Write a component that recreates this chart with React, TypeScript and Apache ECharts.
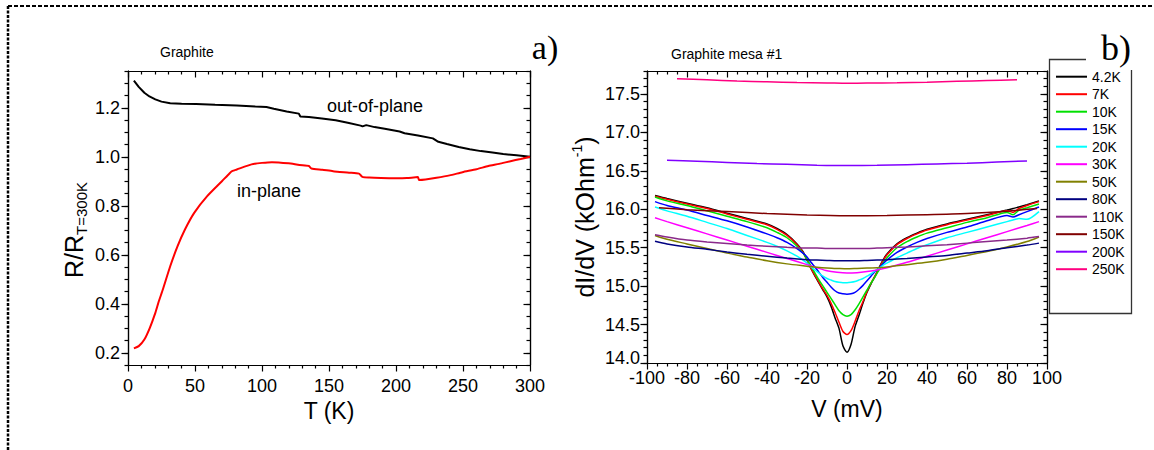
import React, { useEffect, useRef } from 'react';
import * as echarts from 'echarts';

// ---------- Panel a) : R/R(300K) vs T ----------
const T_OUT = [4.4, 8, 12.2, 16, 20.4, 25, 31.5, 40, 50.8, 65, 81.2, 95, 103.3, 108.8, 118.4, 127.5, 128.6, 135, 144.7, 155, 164, 173.6, 175, 177.8, 184, 191.6, 202.7, 206.4, 216.4, 227.5, 231.6, 238, 246.8, 255, 263.4, 272, 280, 290, 300];
const R_OUT = [1.311, 1.285, 1.261, 1.246, 1.234, 1.225, 1.218, 1.216, 1.215, 1.212, 1.209, 1.205, 1.203, 1.196, 1.185, 1.176, 1.164, 1.162, 1.156, 1.149, 1.139, 1.127, 1.124, 1.129, 1.121, 1.114, 1.103, 1.096, 1.087, 1.075, 1.061, 1.052, 1.04, 1.031, 1.023, 1.017, 1.011, 1.006, 1.0];
const T_IN = [4.4, 8, 12.2, 16.3, 20.4, 23, 26, 31.5, 37, 42.5, 49.4, 59.1, 70.1, 75.7, 78, 81.2, 92.2, 100, 107.4, 119.8, 128, 135, 136.9, 145, 153, 165, 172.3, 174.9, 180, 188.8, 200, 208.2, 216.3, 217.2, 222, 230.2, 240, 249.6, 260, 268.9, 277, 285.4, 293, 300];
const R_IN = [0.218, 0.227, 0.254, 0.302, 0.363, 0.41, 0.458, 0.553, 0.635, 0.703, 0.771, 0.839, 0.9, 0.932, 0.942, 0.948, 0.969, 0.975, 0.978, 0.973, 0.966, 0.962, 0.952, 0.947, 0.941, 0.935, 0.931, 0.918, 0.915, 0.913, 0.912, 0.913, 0.917, 0.905, 0.907, 0.914, 0.924, 0.937, 0.949, 0.962, 0.971, 0.982, 0.991, 1.0];
const A_Y_TICKS = [0.2, 0.4, 0.6, 0.8, 1.0, 1.2];

// ---------- Panel b) : dI/dV vs V ----------
const V_FINE = [-96, -90, -80, -70, -60, -50, -40, -35, -30, -25, -22, -20, -18, -16, -14, -12, -10, -8, -6, -4, -2, 0, 2, 4, 6, 8, 10, 12, 14, 16, 18, 20, 25, 30, 35, 40, 50, 60, 70, 80, 83, 86, 90, 96];
const D_4K2 = [16.18, 16.14, 16.08, 16.02, 15.95, 15.88, 15.81, 15.75, 15.67, 15.55, 15.45, 15.34, 15.23, 15.13, 15.04, 14.95, 14.86, 14.74, 14.59, 14.45, 14.22, 14.14, 14.24, 14.47, 14.62, 14.78, 14.92, 15.03, 15.13, 15.24, 15.34, 15.42, 15.55, 15.63, 15.69, 15.74, 15.81, 15.87, 15.93, 15.99, 16.01, 16.03, 16.06, 16.11];
const D_7K = [16.17, 16.13, 16.07, 16.01, 15.94, 15.87, 15.8, 15.74, 15.66, 15.54, 15.44, 15.34, 15.23, 15.14, 15.05, 14.96, 14.88, 14.78, 14.66, 14.53, 14.41, 14.37, 14.42, 14.54, 14.68, 14.8, 14.93, 15.04, 15.13, 15.23, 15.33, 15.41, 15.54, 15.62, 15.68, 15.73, 15.8, 15.86, 15.92, 15.98, 15.96, 16.01, 16.05, 16.1];
const D_10K = [16.16, 16.11, 16.05, 15.98, 15.91, 15.84, 15.76, 15.7, 15.63, 15.52, 15.43, 15.35, 15.26, 15.17, 15.08, 15.0, 14.92, 14.84, 14.76, 14.68, 14.63, 14.61, 14.63, 14.69, 14.77, 14.86, 14.95, 15.04, 15.12, 15.21, 15.3, 15.37, 15.5, 15.58, 15.64, 15.69, 15.76, 15.83, 15.89, 15.96, 15.93, 15.99, 16.02, 16.07];
const D_15K = [16.1, 16.05, 15.99, 15.92, 15.85, 15.77, 15.68, 15.63, 15.57, 15.49, 15.43, 15.38, 15.31, 15.25, 15.18, 15.11, 15.05, 14.99, 14.94, 14.91, 14.9, 14.895, 14.9, 14.92, 14.96, 15.01, 15.07, 15.13, 15.19, 15.24, 15.29, 15.34, 15.44, 15.51, 15.57, 15.62, 15.7, 15.77, 15.85, 15.92, 15.9, 15.93, 15.97, 16.03];
const D_20K = [16.03, 15.98, 15.91, 15.83, 15.75, 15.66, 15.57, 15.52, 15.46, 15.39, 15.34, 15.3, 15.25, 15.21, 15.17, 15.13, 15.1, 15.08, 15.06, 15.05, 15.045, 15.045, 15.05, 15.06, 15.08, 15.1, 15.13, 15.16, 15.2, 15.23, 15.27, 15.3, 15.37, 15.43, 15.49, 15.54, 15.63, 15.7, 15.77, 15.84, 15.86, 15.88, 15.87, 15.97];
const V_COARSE = [-96, -90, -80, -70, -60, -50, -40, -30, -20, -15, -10, -5, 0, 5, 10, 15, 20, 30, 40, 50, 60, 70, 80, 90, 96];
const D_30K = [15.89, 15.84, 15.76, 15.68, 15.6, 15.52, 15.44, 15.36, 15.28, 15.24, 15.2, 15.18, 15.17, 15.175, 15.19, 15.21, 15.24, 15.31, 15.39, 15.47, 15.55, 15.63, 15.71, 15.79, 15.84];
const D_50K = [15.66, 15.61, 15.55, 15.49, 15.43, 15.38, 15.33, 15.29, 15.26, 15.245, 15.235, 15.23, 15.225, 15.23, 15.235, 15.24, 15.25, 15.28, 15.31, 15.35, 15.4, 15.45, 15.51, 15.58, 15.64];
const D_80K = [15.585, 15.55, 15.51, 15.48, 15.445, 15.415, 15.39, 15.365, 15.345, 15.34, 15.335, 15.33, 15.33, 15.33, 15.335, 15.34, 15.345, 15.36, 15.38, 15.4, 15.43, 15.46, 15.5, 15.535, 15.56];
const D_110K = [15.67, 15.64, 15.6, 15.575, 15.555, 15.535, 15.52, 15.505, 15.495, 15.495, 15.49, 15.49, 15.49, 15.49, 15.49, 15.495, 15.5, 15.51, 15.525, 15.54, 15.56, 15.58, 15.6, 15.625, 15.645];
const V_150 = [-94, -80, -60, -40, -20, 0, 20, 40, 60, 80, 95];
const D_150K = [16.02, 15.995, 15.97, 15.945, 15.925, 15.915, 15.92, 15.93, 15.945, 15.975, 16.01];
const V_200 = [-90, -75, -60, -45, -30, -15, 0, 15, 30, 45, 60, 75, 90];
const D_200K = [16.64, 16.625, 16.61, 16.595, 16.585, 16.575, 16.57, 16.572, 16.58, 16.59, 16.6, 16.615, 16.63];
const V_250 = [-85, -70, -55, -40, -25, -10, 0, 10, 25, 40, 55, 70, 85];
const D_250K = [17.7, 17.685, 17.67, 17.66, 17.65, 17.645, 17.64, 17.643, 17.648, 17.655, 17.665, 17.675, 17.685];

const B_LABELS = ['4.2K', '7K', '10K', '15K', '20K', '30K', '50K', '80K', '110K', '150K', '200K', '250K'];
const B_COLORS = ['#000000', '#ff0000', '#00e000', '#0000ff', '#00ffff', '#ff00ff', '#808000', '#000080', '#8a2a8a', '#800000', '#8000ff', '#ff0080'];
const B_X = [V_FINE, V_FINE, V_FINE, V_FINE, V_FINE, V_COARSE, V_COARSE, V_COARSE, V_COARSE, V_150, V_200, V_250];
const B_Y = [D_4K2, D_7K, D_10K, D_15K, D_20K, D_30K, D_50K, D_80K, D_110K, D_150K, D_200K, D_250K];
const B_Y_TICKS = [14.0, 14.5, 15.0, 15.5, 16.0, 16.5, 17.0, 17.5];

const FONT = '"Liberation Sans", Arial, sans-serif';
const SERIF = '"Liberation Serif", "Times New Roman", serif';
const AX = { color: '#000', width: 1.2 };

const zip = (xs: number[], ys: number[]) => xs.map((x, i) => [x, ys[i]]);

function App() {
  const ref = useRef<HTMLDivElement>(null);
  useEffect(() => {
    if (!ref.current) return;
    const chart = echarts.init(ref.current, undefined, { renderer: 'svg' });

    const baseX = (grid: number, min: number, max: number, interval: number, split: number) => ({
      type: 'value', gridIndex: grid, min, max, interval,
      splitLine: { show: false },
      axisLine: { show: true, onZero: false, lineStyle: AX },
      minorTick: { show: true, splitNumber: split, length: 3.5, lineStyle: AX },
      axisTick: { show: true, length: 6.5, lineStyle: AX },
    });

    const xAxis = [
      {
        ...baseX(0, 0, 300, 50, 5), position: 'bottom',
        axisLabel: { fontSize: 18, fontFamily: FONT, color: '#000', margin: 12 },
        name: 'T (K)', nameLocation: 'middle', nameGap: 34,
        nameTextStyle: { fontSize: 23, fontFamily: FONT, color: '#000' },
      },
      {
        ...baseX(0, 0, 300, 50, 5), position: 'top',
        axisLabel: { show: false },
        axisTick: { show: true, inside: true, length: 6.5, lineStyle: AX },
      },
      {
        ...baseX(1, -100, 100, 20, 4), position: 'bottom',
        axisLabel: { fontSize: 18, fontFamily: FONT, color: '#000', margin: 9, lineHeight: 12 },
        name: 'V (mV)', nameLocation: 'middle', nameGap: 34,
        nameTextStyle: { fontSize: 23, fontFamily: FONT, color: '#000' },
      },
      {
        ...baseX(1, -100, 100, 20, 4), position: 'top',
        axisLabel: { show: false },
        axisTick: { show: true, inside: true, length: 6.5, lineStyle: AX },
      },
    ];

    const yPair = (grid: number, min: number, max: number, step: number, majors: number[], pos: string, inside: boolean, labels: any) => [
      {
        type: 'value', gridIndex: grid, min, max, interval: step, position: pos,
        splitLine: { show: false },
        axisLine: { show: true, onZero: false, lineStyle: AX },
        axisTick: { show: true, inside, length: 3.5, lineStyle: AX },
        axisLabel: labels,
      },
      {
        type: 'value', gridIndex: grid, min, max, interval: step, position: pos,
        splitLine: { show: false },
        axisLine: { show: true, onZero: false, lineStyle: AX },
        axisTick: { show: true, inside, length: 6.5, lineStyle: AX, customValues: majors },
        axisLabel: { show: false },
      },
    ];

    const yAxis = [
      ...yPair(0, 0.15, 1.35, 0.05, A_Y_TICKS, 'left', false, {
        show: true, customValues: A_Y_TICKS, formatter: (v: number) => v.toFixed(1),
        fontSize: 18, fontFamily: FONT, color: '#000', margin: 8,
      }),
      ...yPair(0, 0.15, 1.35, 0.05, A_Y_TICKS, 'right', true, { show: false }),
      ...yPair(1, 14, 17.8, 0.1, B_Y_TICKS, 'left', false, {
        show: true, customValues: B_Y_TICKS,
        formatter: (v: number) => (Math.abs(v - 14) < 1e-6 ? '{m|' + v.toFixed(1) + '}' : v.toFixed(1)),
        fontSize: 18, fontFamily: FONT, color: '#000', margin: 7, lineHeight: 12,
        rich: { m: { fontSize: 18, fontFamily: FONT, color: '#000', lineHeight: 12, padding: [0, 0, 10, 0] } },
      }),
      ...yPair(1, 14, 17.8, 0.1, B_Y_TICKS, 'right', true, { show: false }),
    ];

    const series: any[] = [
      {
        type: 'line', name: 'out-of-plane', xAxisIndex: 0, yAxisIndex: 0,
        data: zip(T_OUT, R_OUT), showSymbol: false, symbol: 'none',
        lineStyle: { color: '#000', width: 2 }, color: '#000',
      },
      {
        type: 'line', name: 'in-plane', xAxisIndex: 0, yAxisIndex: 0,
        data: zip(T_IN, R_IN), showSymbol: false, symbol: 'none', smooth: 0.2,
        lineStyle: { color: '#ff0000', width: 2 }, color: '#ff0000',
      },
      ...B_LABELS.map((name, i) => ({
        type: 'line', name, xAxisIndex: 2, yAxisIndex: 4,
        data: zip(B_X[i], B_Y[i]), showSymbol: false, symbol: 'none', smooth: 0.25,
        color: B_COLORS[i], itemStyle: { color: B_COLORS[i] },
        lineStyle: { color: B_COLORS[i], width: 1.5 },
      })),
    ];

    const txt = (text: string, x: number, y: number, size: number, align = 'left', family = FONT) => ({
      type: 'text', x, y, z: 10,
      style: { text, fontSize: size, fontFamily: family, fill: '#000', align, verticalAlign: 'middle' },
    });

    const graphic = [
      { type: 'line', shape: { x1: 8, y1: 6, x2: 1154, y2: 6 }, style: { stroke: '#000', lineWidth: 2, lineDash: [4, 2] } },
      { type: 'line', shape: { x1: 8, y1: 6, x2: 8, y2: 450 }, style: { stroke: '#000', lineWidth: 2.5, lineDash: [3, 1.5] } },
      txt('Graphite', 160, 52, 14),
      txt('Graphite mesa #1', 671, 54, 14),
      txt('a)', 545, 47, 34, 'center', SERIF),
      txt('b)', 1116, 48, 36, 'center', SERIF),
      txt('out-of-plane', 327, 106, 18),
      txt('in-plane', 237, 191, 18),
      {
        type: 'polyline', z: 5,
        shape: { points: [[1086, 59.5], [1049.5, 59.5], [1049.5, 313.5], [1131.5, 313.5], [1131.5, 70]] },
        style: { stroke: '#333', lineWidth: 1.3, fill: null },
      },
      {
        type: 'text', x: 74, y: 230, rotation: Math.PI / 2, z: 10,
        style: {
          text: '{a|R/R}{b|T=300K}', align: 'center', verticalAlign: 'middle',
          fontSize: 24, fontFamily: FONT, fill: '#000',
          rich: {
            a: { fontSize: 25, fontFamily: FONT, fill: '#000', lineHeight: 30 },
            b: { fontSize: 15, fontFamily: FONT, fill: '#000', lineHeight: 14, verticalAlign: 'bottom' },
          },
        },
      },
      {
        type: 'text', x: 585, y: 217, rotation: Math.PI / 2, z: 10,
        style: {
          text: '{a|dI/dV (kOhm}{s|-1}{a|)}', align: 'center', verticalAlign: 'middle',
          fontSize: 25, fontFamily: FONT, fill: '#000',
          rich: {
            a: { fontSize: 25, fontFamily: FONT, fill: '#000', lineHeight: 30 },
            s: { fontSize: 14, fontFamily: FONT, fill: '#000', lineHeight: 16, verticalAlign: 'top' },
          },
        },
      },
    ];

    chart.setOption({
      animation: false,
      backgroundColor: '#ffffff',
      grid: [
        { left: 128, top: 71, width: 402, height: 294, outerBoundsMode: 'none', containLabel: false },
        { left: 647, top: 71, width: 400, height: 292, outerBoundsMode: 'none', containLabel: false },
      ],
      legend: {
        data: B_LABELS, orient: 'vertical', left: 1056, top: 69.7,
        itemWidth: 31, itemHeight: 2, itemGap: 3.5, padding: 0, icon: 'rect',
        selectedMode: false,
        textStyle: { fontSize: 14, fontFamily: FONT, color: '#000', lineHeight: 14 },
      },
      xAxis, yAxis, series, graphic,
    } as any);

    return () => chart.dispose();
  }, []);

  return (
    <div
      ref={ref}
      style={{ position: 'absolute', left: 0, top: 0, width: 1154, height: 450, background: '#fff' }}
    />
  );
}

export default App;
